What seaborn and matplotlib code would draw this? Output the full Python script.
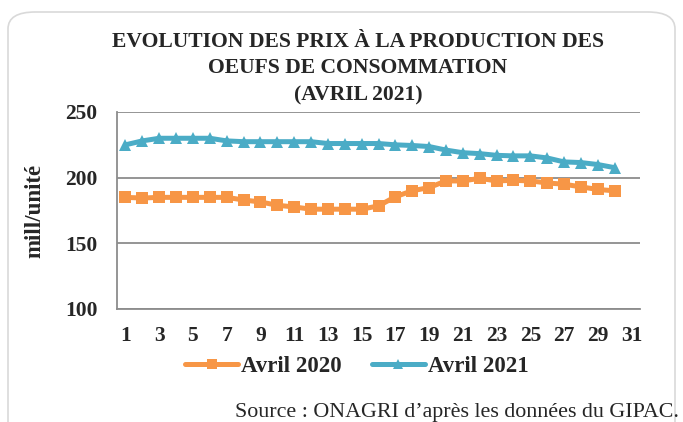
import numpy as np
import pandas as pd
import matplotlib
matplotlib.use("Agg")
import matplotlib.pyplot as plt
import seaborn as sns
from matplotlib.patches import FancyBboxPatch

days = list(range(1, 31))
avril_2020 = [185, 184.5, 185, 185, 185, 185, 185, 183, 181.5, 179, 177.7, 176, 176, 176, 176,
              178.5, 185.5, 190, 192.5, 197.5, 197.5, 199.5, 197.5, 198, 197.5, 196, 195, 193, 191, 190]
avril_2021 = [225, 228, 230, 230, 230, 230, 228, 227.4, 227.4, 227.4, 227.4, 227.4, 226, 226, 226,
              226, 225, 224.5, 223.7, 221, 219, 218.3, 217, 216.6, 216.6, 215, 212, 211.5, 210, 207.6]
x_ticks = list(range(1, 32, 2))
y_ticks = [100, 150, 200, 250]

df = pd.DataFrame({"jour": days, "Avril 2020": avril_2020, "Avril 2021": avril_2021})
long = df.melt(id_vars="jour", var_name="serie", value_name="prix")

sns.set_style("white")
plt.rcParams["font.family"] = ["Liberation Serif", "DejaVu Serif"]

fig = plt.figure(figsize=(6.83, 4.22), dpi=100)
ax = fig.add_axes([117 / 683, 1 - 309 / 422, (640 - 117) / 683, (309 - 112) / 422])

# rounded frame around the chart
fig.patches.append(FancyBboxPatch((8 / 683, -0.05), 667 / 683, 1.05 - 12 / 422,
                                  boxstyle="round,pad=0,rounding_size=0.04",
                                  transform=fig.transFigure, fill=False,
                                  edgecolor="#d9d9d9", linewidth=1.2, zorder=0))

pal = {"Avril 2020": "#F79646", "Avril 2021": "#4BACC6"}
sns.lineplot(data=long, x="jour", y="prix", hue="serie", style="serie",
             markers={"Avril 2020": "s", "Avril 2021": "^"}, dashes=False,
             palette=pal, linewidth=3.6, markersize=8.5, markeredgewidth=0, ax=ax, legend=True)

ax.set_xlim(0.5, 31.5)
ax.set_ylim(100, 250)
ax.set_xticks(x_ticks)
ax.set_yticks(y_ticks)
ax.tick_params(axis="y", labelsize=15.5, length=0, pad=14)
ax.tick_params(axis="x", labelsize=15.5, length=0, pad=12)
for lab in ax.get_xticklabels() + ax.get_yticklabels():
    lab.set_fontweight("bold")
ax.yaxis.grid(True, color="#8c8c8c", linewidth=1.3)
ax.set_axisbelow(True)
for s in ["top", "right"]:
    ax.spines[s].set_visible(False)
for s in ["left", "bottom"]:
    ax.spines[s].set_color("#8c8c8c")
    ax.spines[s].set_linewidth(1.3)
ax.set_xlabel("")
ax.set_ylabel("mill/unité", fontsize=16.5, fontweight="bold", labelpad=14)

handles, labels = ax.get_legend_handles_labels()
for h in handles:
    h.set_markersize(6.5)
ax.legend(handles, labels, loc="center", bbox_to_anchor=(357 / 683, 1 - 366 / 422),
          bbox_transform=fig.transFigure, ncol=2, frameon=False, handlelength=2.3,
          columnspacing=1.3, handletextpad=0.15, prop={"size": 16.5, "weight": "bold"})

fig.text(358 / 683, 1 - 42 / 422, "EVOLUTION DES PRIX À LA PRODUCTION DES", ha="center", va="center",
         fontsize=15.6, fontweight="bold")
fig.text(358 / 683, 1 - 68 / 422, "OEUFS DE CONSOMMATION", ha="center", va="center",
         fontsize=15.6, fontweight="bold")
fig.text(358 / 683, 1 - 95 / 422, "(AVRIL 2021)", ha="center", va="center",
         fontsize=15.6, fontweight="bold")
fig.text(679 / 683, 1 - 413 / 422, "Source : ONAGRI d\u2019après les données du GIPAC.", ha="right",
         va="center", fontsize=15.8)

fig.savefig("out.png", dpi=100)
